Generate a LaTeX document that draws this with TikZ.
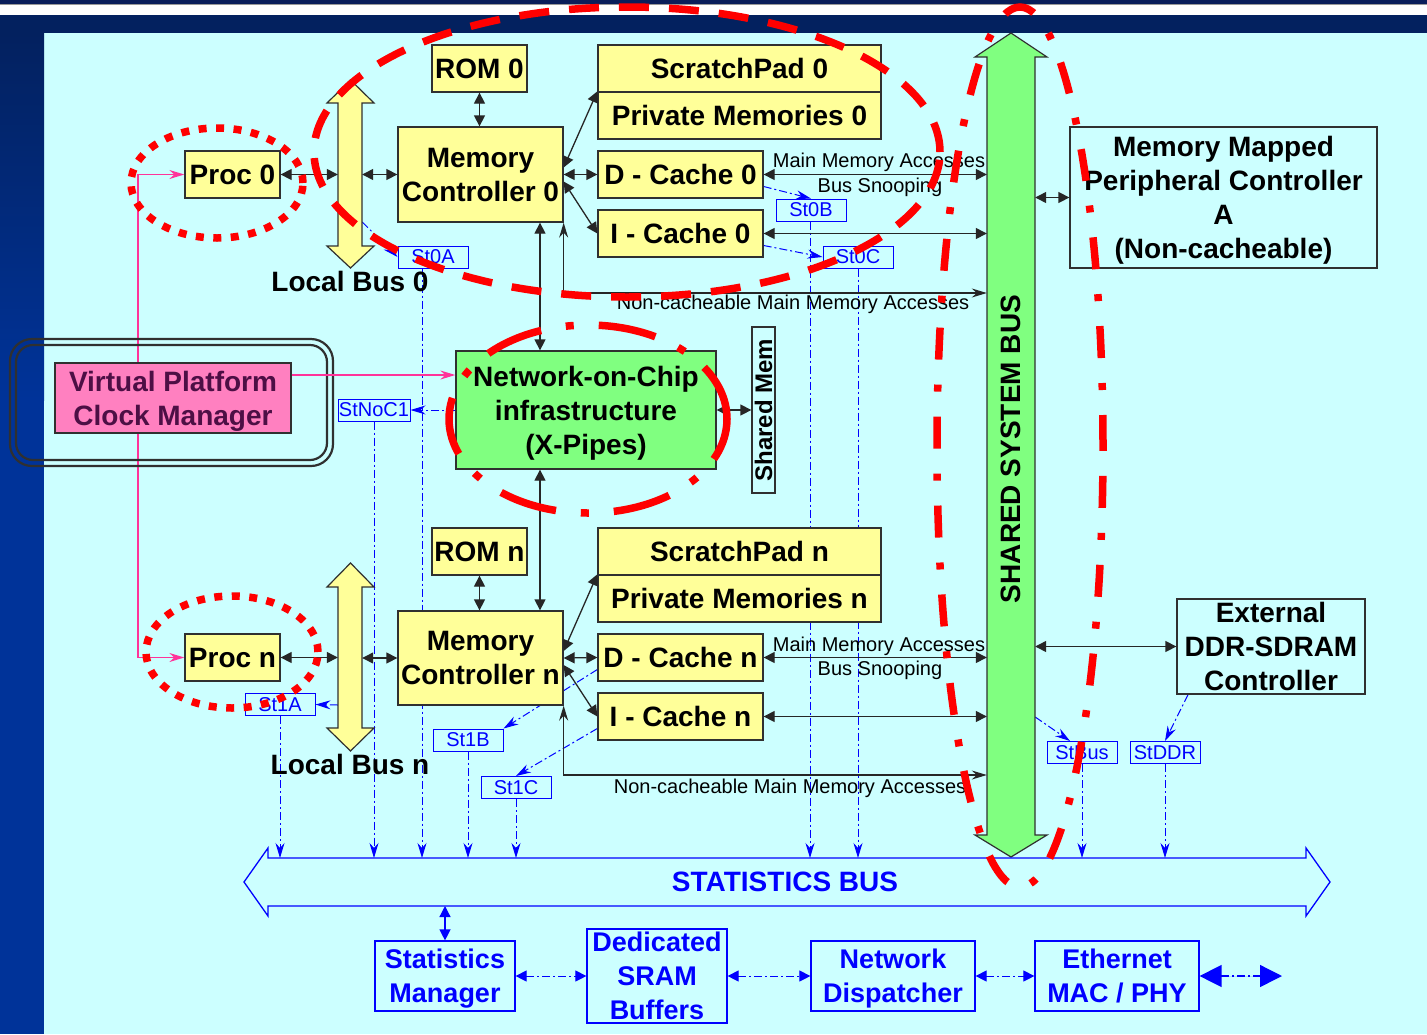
\documentclass[tikz,border=0pt]{standalone}
\usepackage{fontspec}
\setmainfont{Liberation Sans}
\usetikzlibrary{arrows.meta}

\definecolor{bgcyan}{HTML}{CCFFFF}
\definecolor{ylw}{HTML}{FFFF99}
\definecolor{grn}{HTML}{80FF80}
\definecolor{pnk}{HTML}{FF80C0}
\definecolor{pnkline}{HTML}{FF3399}
\definecolor{pnktext}{HTML}{4D0F45}
\definecolor{navytop}{HTML}{0A1E5A}
\definecolor{navy}{HTML}{03215F}
\definecolor{stripblue}{HTML}{003399}
\definecolor{boxline}{HTML}{303030}
\definecolor{sblue}{HTML}{0000FF}

\newcommand\lblfont{\fontsize{28}{34}\selectfont\bfseries}
\newcommand\botfont{\fontsize{27}{34}\selectfont\bfseries}
\newcommand\smfont{\fontsize{20}{24}\selectfont}
\newcommand\stfont{\fontsize{20}{24}\selectfont}

\pgfdeclarelayer{bglayer}
\pgfdeclarelayer{back}
\pgfdeclarelayer{front}
\pgfsetlayers{bglayer,back,main,front}

\tikzset{
  tri/.tip={Triangle[length=11pt,width=11pt]},
  bigtri/.tip={Triangle[length=22pt,width=22pt]},
  stl/.tip={Stealth[length=15pt,width=9pt,inset=5pt]},
  ybox/.style={draw=boxline, fill=ylw, line width=1.3pt, inner sep=0pt, align=center, font=\lblfont},
  wbox/.style={draw=boxline, fill=bgcyan, line width=1.3pt, inner sep=0pt, align=center, font=\lblfont},
  stbox/.style={draw=sblue, fill=bgcyan, text=sblue, line width=1pt, inner sep=0pt,
                minimum width=70pt, minimum height=22pt, font=\stfont},
  bluebox/.style={draw=sblue, fill=bgcyan, text=sblue, line width=1.2pt, inner sep=0pt,
                  align=center, font=\botfont},
  lowtext/.style={text depth=-2pt},
  conn/.style={draw=black!85, line width=1.3pt, tri-tri},
  ncconn/.style={draw=black!85, line width=1.3pt, stl-stl},
  statln/.style={draw=sblue, line width=1pt, dash pattern=on 8pt off 3pt on 2pt off 3pt},
  statarr/.style={statln, -stl},
  pinkln/.style={draw=pnkline, line width=1.3pt},
  busfill/.style={draw=boxline, line width=1.2pt},
  redln/.style={draw=red, line width=7.5pt},
  smlbl/.style={font=\smfont, inner sep=0pt},
}

\begin{document}
\begin{tikzpicture}[x=1pt,y=-1pt]
\useasboundingbox (0,0) rectangle (1427,1034);

% page background and frame bands
\begin{pgfonlayer}{bglayer}
  \fill[bgcyan] (44,33) rectangle (1427,1034);
  \fill[navytop] (0,0) rectangle (1427,4);
  \fill[black!40] (0,4) rectangle (1427,5);
  \fill[white] (0,5) rectangle (1427,15);
  \fill[navy] (0,15) rectangle (1427,33);
  \shade[top color=navy, bottom color=stripblue] (0,33) rectangle (44,400);
  \fill[stripblue] (0,400) rectangle (44,1034);
\end{pgfonlayer}

% local buses and shared system bus
\filldraw[busfill, fill=ylw] (350.5,80) -- (374,103) -- (362,103) -- (362,246) -- (374,246)
  -- (350.5,268) -- (327,246) -- (338,246) -- (338,103) -- (327,103) -- cycle;
\filldraw[busfill, fill=ylw] (350.5,563) -- (374,587) -- (362,587) -- (362,728) -- (374,728)
  -- (350.5,751) -- (327,728) -- (338,728) -- (338,587) -- (327,587) -- cycle;
\filldraw[busfill, fill=grn] (1011,33) -- (1047,57) -- (1035,57) -- (1035,835) -- (1047,835)
  -- (1011,857) -- (975,835) -- (987,835) -- (987,57) -- (975,57) -- cycle;
\node[minimum width=24pt, minimum height=143pt, inner sep=0pt] (lb0) at (350,174.5) {};
\node[minimum width=24pt, minimum height=141pt, inner sep=0pt] (lbn) at (350,657.5) {};
\node[minimum width=48pt, minimum height=778pt, inner sep=0pt] (sysbus) at (1011,446) {};
\node[rotate=90, font=\lblfont, inner sep=0pt] (sysbuslbl) at (1011,449) {SHARED SYSTEM BUS};
\node[font=\lblfont, inner sep=0pt] (lb0lbl) at (350,281) {Local Bus 0};
\node[font=\lblfont, inner sep=0pt] (lbnlbl) at (350,764) {Local Bus n};

% statistics bus
\draw[sblue, line width=1.3pt, fill=bgcyan] (244,882) -- (268,848) -- (268,858) -- (1306,858)
  -- (1306,848) -- (1330,882) -- (1306,916) -- (1306,906) -- (268,906) -- (268,916) -- cycle;
\node[font=\lblfont, text=sblue, inner sep=0pt] (statbuslbl) at (785,882) {STATISTICS BUS};
\coordinate (statbus) at (785,858);
\coordinate (statbusbot) at (785,906);

% tile 0
\node[ybox, minimum width=95pt, minimum height=47pt] (rom0) at (479.5,68.5) {ROM 0};
\node[ybox, minimum width=283pt, minimum height=47pt] (sp0) at (739.5,68.5) {ScratchPad 0};
\node[ybox, minimum width=283pt, minimum height=47pt] (pm0) at (739.5,115.5) {Private Memories 0};
\node[ybox, minimum width=165pt, minimum height=95pt] (mc0) at (480.5,174.5) {Memory\\Controller 0};
\node[ybox, minimum width=165pt, minimum height=47pt] (dc0) at (680.5,174.5) {D - Cache 0};
\node[ybox, minimum width=165pt, minimum height=47pt] (ic0) at (680.5,233.5) {I - Cache 0};
\node[ybox, minimum width=95pt, minimum height=47pt] (proc0) at (232.5,174.5) {Proc 0};

% tile n
\node[ybox, minimum width=95pt, minimum height=47pt] (romn) at (479.5,551.5) {ROM n};
\node[ybox, minimum width=283pt, minimum height=47pt] (spn) at (739.5,551.5) {ScratchPad n};
\node[ybox, minimum width=283pt, minimum height=47pt] (pmn) at (739.5,598.5) {Private Memories n};
\node[ybox, minimum width=165pt, minimum height=94pt] (mcn) at (480.5,658) {Memory\\Controller n};
\node[ybox, minimum width=165pt, minimum height=47pt] (dcn) at (680.5,657.5) {D - Cache n};
\node[ybox, minimum width=165pt, minimum height=47pt] (icn) at (680.5,716.5) {I - Cache n};
\node[ybox, minimum width=95pt, minimum height=47pt] (procn) at (232.5,657.5) {Proc n};

% network on chip and shared memory
\node[ybox, lowtext, fill=grn, minimum width=260pt, minimum height=118pt] (noc) at (586,410)
  {Network-on-Chip\\infrastructure\\(X-Pipes)};
\node[wbox, minimum width=23pt, minimum height=166pt] (shmem) at (763.5,410) {};
\node[rotate=90, font=\fontsize{24}{28}\selectfont\bfseries, inner sep=0pt] (shmemlbl) at (shmem) {Shared Mem};

% clock manager
\draw[boxline, line width=2.2pt, rounded corners=22pt] (10,339) rectangle (333,466);
\draw[boxline, line width=2.2pt, rounded corners=17pt] (16,345) rectangle (327,460);
\coordinate (pk) at (138,398);
\begin{pgfonlayer}{back}
  \draw[pinkln, -stl] (pk) |- (proc0.west);
  \draw[pinkln, -stl] (pk) |- (procn.west);
\end{pgfonlayer}
\node[draw=boxline, fill=pnk, line width=1.2pt, minimum width=236pt, minimum height=70pt,
      inner sep=0pt, align=center, font=\lblfont, text=pnktext, lowtext] (vpcm) at (173,398)
  {Virtual Platform\\Clock Manager};
\draw[pinkln, -stl] (vpcm.east |- noc.west) ++(0,-35) coordinate (vpo) -- (noc.west |- vpo);

% off-chip controllers
\node[wbox, lowtext, minimum width=307pt, minimum height=141pt] (mmp) at (1223.5,197.5)
  {Memory Mapped\\Peripheral Controller\\A\\(Non-cacheable)};
\node[wbox, minimum width=188pt, minimum height=95pt] (ddr) at (1271,646.5)
  {External\\DDR-SDRAM\\Controller};

% statistics probes
\node[stbox] (st0a) at (433,257) {St0A};
\node[stbox] (st0b) at (811,210) {St0B};
\node[stbox] (st0c) at (858,257) {St0C};
\node[stbox, minimum width=72pt] (stnoc1) at (374,410) {StNoC1};
\node[stbox] (st1a) at (280,704.5) {St1A};
\node[stbox] (st1b) at (468,740) {St1B};
\node[stbox] (st1c) at (516,787.5) {St1C};
\node[stbox] (stbus) at (1082,752.5) {StBus};
\node[stbox] (stddr) at (1165,752.5) {StDDR};

% statistics back end
\node[bluebox, lowtext, minimum width=140pt, minimum height=70pt] (statmgr) at (445,976) {Statistics\\Manager};
\node[bluebox, minimum width=140pt, minimum height=94pt] (sram) at (657,976) {Dedicated\\SRAM\\Buffers};
\node[bluebox, lowtext, minimum width=164pt, minimum height=70pt] (netdisp) at (893,976) {Network\\Dispatcher};
\node[bluebox, minimum width=164pt, minimum height=70pt] (eth) at (1117,976) {Ethernet\\MAC / PHY};
\coordinate (ethout) at (1282,976);

% connectors of tile 0
\draw[conn] (proc0.east) -- (lb0.west |- proc0.east);
\draw[conn] (lb0.east |- mc0.west) -- (mc0.west);
\draw[conn] (rom0.south) -- (rom0.south |- mc0.north);
\draw[conn] ([yshift=7pt]mc0.east) -- (pm0.north west);
\draw[conn] (mc0.east) -- (dc0.west);
\draw[conn] ([yshift=-7pt]mc0.east) -- (ic0.west);
\draw[conn] (dc0.east) -- (sysbus.west |- dc0.east);
\draw[conn] (ic0.east) -- (sysbus.west |- ic0.east);
\coordinate (nc0) at (700,293);
\draw[ncconn] (mc0.south east) |- (sysbus.west |- nc0);
\node[smlbl] (mma0) at (879,162) {Main Memory Accesses};
\node[smlbl] (bs0) at (880,187) {Bus Snooping};
\node[smlbl] (nca0) at (793,304) {Non-cacheable Main Memory Accesses};

% connectors of tile n
\draw[conn] (procn.east) -- (lbn.west |- procn.east);
\draw[conn] (lbn.east |- mcn.west) -- (mcn.west);
\draw[conn] (romn.south) -- (romn.south |- mcn.north);
\draw[conn] ([yshift=7pt]mcn.east) -- (pmn.north west);
\draw[conn] (mcn.east) -- (dcn.west);
\draw[conn] ([yshift=-7pt]mcn.east) -- (icn.west);
\draw[conn] (dcn.east) -- (sysbus.west |- dcn.east);
\draw[conn] (icn.east) -- (sysbus.west |- icn.east);
\coordinate (ncn) at (700,775);
\draw[ncconn] (mcn.south east) |- (sysbus.west |- ncn);
\node[smlbl] (mman) at (879,646) {Main Memory Accesses};
\node[smlbl] (bsn) at (880,670) {Bus Snooping};
\node[smlbl] (ncan) at (790,788) {Non-cacheable Main Memory Accesses};

% network and system bus connectors
\coordinate (vx) at (540,0);
\draw[conn] (mc0.south -| vx) -- (noc.north -| vx);
\draw[conn] (noc.south -| vx) -- (mcn.north -| vx);
\draw[conn] (noc.east) -- (shmem.west);
\draw[conn] (sysbus.east |- mmp.west) -- (mmp.west);
\draw[conn] (sysbus.east |- ddr.west) -- (ddr.west);

% statistics probes and their drops to the statistics bus
\begin{pgfonlayer}{back}
  \draw[statarr] ([yshift=-47.5pt]lb0.east) -- (st0a.west);
  \draw[statarr] ([yshift=-12pt]dc0.east) -- (st0b.north);
  \draw[statarr] ([yshift=-12pt]ic0.east) -- (st0c.west);
  \draw[statarr] (noc.west) -- (stnoc1.east);
  \draw[statarr] ([yshift=-47.5pt]lbn.west) -- (st1a.east);
  \draw[statarr] ([yshift=-12pt]dcn.west) -- (st1b.north east);
  \draw[statarr] ([yshift=-12pt]icn.west) -- (st1c.north);
  \draw[statarr] (sysbus.east |- 0,717) -- ([xshift=-12pt]stbus.north);
  \draw[statarr] ([xshift=-83pt]ddr.south) -- (stddr.north);
  \draw[statarr] (st1a.south) -- (st1a.south |- statbus);
  \draw[statarr] (stnoc1.south) -- (stnoc1.south |- statbus);
  \draw[statarr] ([xshift=-11pt]st0a.south) -- ([xshift=-11pt]st0a.south |- statbus);
  \draw[statarr] (st1b.south) -- (st1b.south |- statbus);
  \draw[statarr] (st1c.south) -- (st1c.south |- statbus);
  \draw[statarr] ([xshift=-1pt]st0b.south) -- ([xshift=-1pt]st0b.south |- statbus);
  \draw[statarr] (st0c.south) -- (st0c.south |- statbus);
  \draw[statarr] (stbus.south) -- (stbus.south |- statbus);
  \draw[statarr] (stddr.south) -- (stddr.south |- statbus);
\end{pgfonlayer}

% statistics back-end links
\draw[sblue, line width=1.3pt, tri-tri] (statmgr.north) -- (statmgr.north |- statbusbot);
\draw[statln, tri-tri] (statmgr.east) -- (sram.west);
\draw[statln, tri-tri] (sram.east) -- (netdisp.west);
\draw[statln, tri-tri] (netdisp.east) -- (eth.west);
\draw[statln, line width=1.3pt, bigtri-bigtri, fill=sblue] (eth.east) -- (ethout);

% highlighted regions
\begin{pgfonlayer}{front}
  \draw[redln, dash pattern=on 8pt off 9.5pt] (217,183) ellipse [x radius=86pt, y radius=55pt];
  \draw[redln, dash pattern=on 8pt off 9.5pt] (232,652) ellipse [x radius=86pt, y radius=56pt];
  \draw[redln, dash pattern=on 30pt off 20pt] (627,152) ellipse [x radius=313pt, y radius=145pt];
  \draw[redln, dash pattern=on 58pt off 25pt on 8pt off 25pt] (588,419) ellipse [x radius=139pt, y radius=94pt];
  \draw[redln, dash pattern=on 32pt off 25pt on 7pt off 25pt] (1020,447) ellipse [x radius=83pt, y radius=440pt];
\end{pgfonlayer}
\end{tikzpicture}
\end{document}
